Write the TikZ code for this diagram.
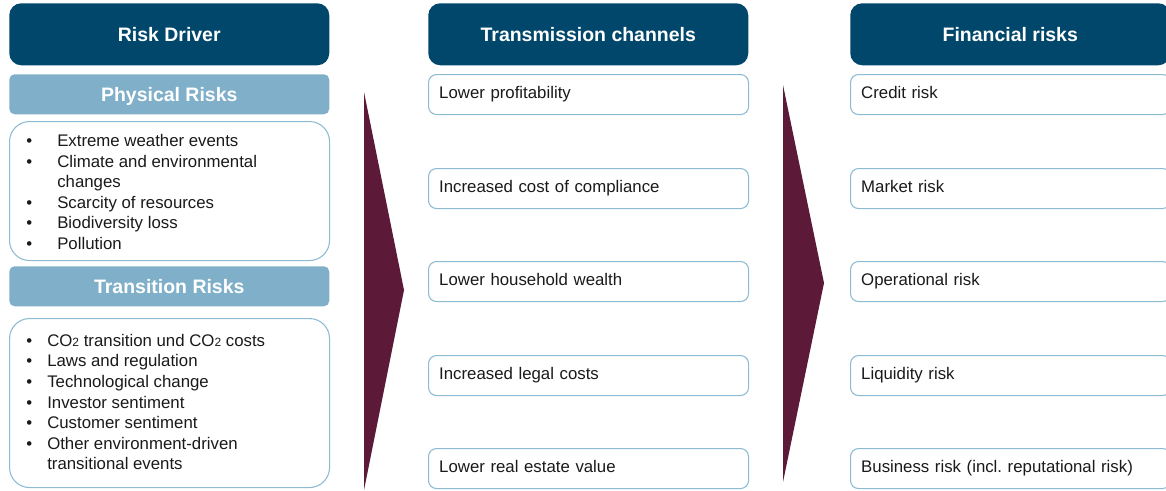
\documentclass[tikz,border=0pt]{standalone}
\usepackage{fontspec}
\setmainfont{Liberation Sans}
\frenchspacing
\definecolor{navy}{HTML}{00476B}
\definecolor{barblue}{HTML}{80B0C9}
\definecolor{edgeblue}{HTML}{8DBBD3}
\definecolor{maroon}{HTML}{5C1A38}
\definecolor{txt}{HTML}{1A1A1A}
\newcommand{\pbul}{\makebox[23.25pt][l]{\textbullet}}
\newcommand{\tbul}{\makebox[15.75pt][l]{\textbullet}}
\newcommand{\cotwo}{CO{\fontsize{9}{9}\selectfont 2}}
\begin{document}
\begin{tikzpicture}[x=0.75pt,y=-0.75pt,
 hdr/.style={anchor=north west, fill=navy, rounded corners=9pt, text=white,
   font=\fontsize{14.6}{17}\selectfont\bfseries, minimum width=240pt, minimum height=46.5pt,
   inner sep=0pt, text depth=0pt},
 bar/.style={anchor=north west, fill=barblue, rounded corners=4pt, text=white,
   font=\fontsize{14.6}{17}\selectfont\bfseries, minimum width=240pt, minimum height=30pt,
   inner sep=0pt, text depth=0pt},
 listbox/.style={anchor=north west, draw=edgeblue, line width=0.8pt, fill=white,
   rounded corners=15pt, minimum width=240pt, inner sep=0pt},
 item/.style={anchor=north west, draw=edgeblue, line width=0.8pt, fill=white, rounded corners=6pt,
   text width=224pt, inner xsep=8pt, inner ysep=0pt, minimum height=30pt, align=left,
   text height=9pt, text depth=2.5pt,
   text=txt, font=\fontsize{12.6}{15}\selectfont},
 listtext/.style={anchor=west, align=left, inner sep=0pt, text=txt,
   font=\fontsize{12.6}{15.45}\selectfont},
 chevron/.style={fill=maroon}
]
\useasboundingbox (0,0) rectangle (1166,490);

% headers
\node[hdr] (h1) at (9,3) {Risk Driver};
\node[hdr] (h2) at (428,3) {Transmission channels};
\node[hdr] (h3) at (850,3) {Financial risks};

% left column
\node[bar] (phys) at (9,74) {Physical Risks};
\node[listbox, minimum height=104.25pt] (physbox) at (9,121) {};
\node[listtext] (physlist) at (26,192) {\pbul Extreme weather events\\
\pbul Climate and environmental\\
\hspace*{23.25pt}changes\\
\pbul Scarcity of resources\\
\pbul Biodiversity loss\\
\pbul Pollution};

\node[bar] (trans) at (9,266) {Transition Risks};
\node[listbox, minimum height=126.75pt] (transbox) at (9,318) {};
\node[listtext] (translist) at (26,402) {\tbul \cotwo{} transition und \cotwo{} costs\\
\tbul Laws and regulation\\
\tbul Technological change\\
\tbul Investor sentiment\\
\tbul Customer sentiment\\
\tbul Other environment-driven\\
\hspace*{15.75pt}transitional events};

% chevrons
\fill[chevron] (364,92) -- (404,290) -- (364,490) -- cycle;
\fill[chevron] (783,85) -- (824,283) -- (783,482) -- cycle;

% transmission channels
\node[item] (c1) at (428,74) {Lower profitability};
\node[item] (c2) at (428,168) {Increased cost of compliance};
\node[item] (c3) at (428,261) {Lower household wealth};
\node[item] (c4) at (428,355) {Increased legal costs};
\node[item] (c5) at (428,448) {Lower real estate value};

% financial risks
\node[item] (f1) at (850,74) {Credit risk};
\node[item] (f2) at (850,168) {Market risk};
\node[item] (f3) at (850,261) {Operational risk};
\node[item] (f4) at (850,355) {Liquidity risk};
\node[item] (f5) at (850,448) {Business risk (incl. reputational risk)};
\end{tikzpicture}
\end{document}
